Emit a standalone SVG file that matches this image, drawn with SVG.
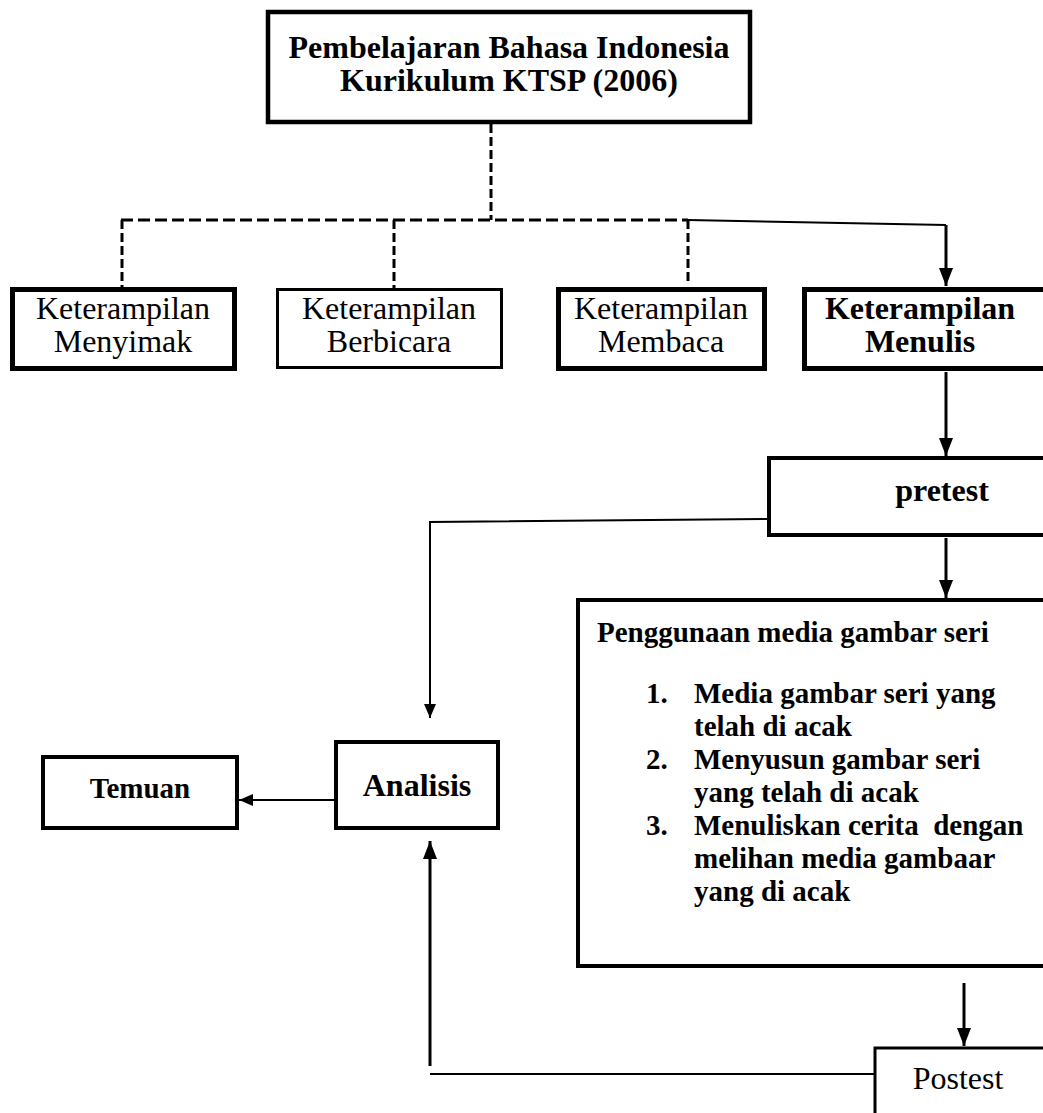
<svg xmlns="http://www.w3.org/2000/svg" width="1043" height="1113" viewBox="0 0 1043 1113">
<defs>
<style>
.box{fill:#fff;stroke:#000}
.t{font-family:"Liberation Serif","Times New Roman",serif;fill:#000}
.b{font-weight:bold}
.c{text-anchor:middle}
.dash{fill:none;stroke:#000;stroke-width:3}
.dv{stroke-dasharray:9 4}
.dh{stroke-dasharray:12 5}
.ln{fill:none;stroke:#000}
</style>
<marker id="ah" viewBox="0 0 18 14" refX="18" refY="7" markerWidth="18" markerHeight="14" markerUnits="userSpaceOnUse" orient="auto">
<path d="M0,0 L18,7 L0,14 Z" fill="#000"/>
</marker>
<marker id="ah2" viewBox="0 0 14 12" refX="14" refY="6" markerWidth="14" markerHeight="12" markerUnits="userSpaceOnUse" orient="auto">
<path d="M0,0 L14,6 L0,12 Z" fill="#000"/>
</marker>
</defs>
<rect width="1043" height="1113" fill="#fff"/>

<g id="connectors">
<path class="dash dv" d="M491,124 V220"/>
<path class="dash dh" d="M121,220 H688"/>
<path class="dash dv" d="M122,220 V287"/>
<path class="dash dv" d="M394,220 V288"/>
<path class="dash dv" d="M688,220 V284"/>
<path class="ln" stroke-width="2" d="M688,220 L946,225"/>
<path class="ln" stroke-width="3" d="M946,225 V286" marker-end="url(#ah)"/>
<path class="ln" stroke-width="3" d="M946,372 V456" marker-end="url(#ah)"/>
<path class="ln" stroke-width="3" d="M946,538 V598" marker-end="url(#ah)"/>
<path class="ln" stroke-width="2" d="M767,519 L430,522 V718" marker-end="url(#ah2)"/>
<path class="ln" stroke-width="2" d="M334,800 H239" marker-end="url(#ah2)"/>
<path class="ln" stroke-width="3" d="M430,1066 V841" marker-end="url(#ah)"/>
<path class="ln" stroke-width="2" d="M430,1074 H874"/>
<path class="ln" stroke-width="3" d="M964,983 V1046" marker-end="url(#ah)"/>
</g>

<g id="node-top">
<rect class="box" x="268" y="12" width="482" height="110" stroke-width="4.5"/>
<text class="t b c" x="509" y="58" font-size="32">Pembelajaran Bahasa Indonesia</text>
<text class="t b c" x="509" y="91" font-size="32">Kurikulum KTSP (2006)</text>
</g>

<g id="node-menyimak">
<rect class="box" x="12.5" y="289.5" width="222" height="79" stroke-width="5"/>
<text class="t c" x="123" y="319" font-size="32">Keterampilan</text>
<text class="t c" x="123" y="352" font-size="32">Menyimak</text>
</g>

<g id="node-berbicara">
<rect class="box" x="277.5" y="289.5" width="224" height="78" stroke-width="3"/>
<text class="t c" x="389" y="319" font-size="32">Keterampilan</text>
<text class="t c" x="389" y="352" font-size="32">Berbicara</text>
</g>

<g id="node-membaca">
<rect class="box" x="558.5" y="289.5" width="206" height="79" stroke-width="5"/>
<text class="t c" x="661" y="319" font-size="32">Keterampilan</text>
<text class="t c" x="661" y="352" font-size="32">Membaca</text>
</g>

<g id="node-menulis">
<rect class="box" x="804.5" y="289.5" width="260" height="79" stroke-width="5"/>
<text class="t b c" x="920" y="319" font-size="32">Keterampilan</text>
<text class="t b c" x="920" y="352" font-size="32">Menulis</text>
</g>

<g id="node-pretest">
<rect class="box" x="769" y="458" width="290" height="77" stroke-width="4"/>
<text class="t b c" x="942" y="501" font-size="32">pretest</text>
</g>

<g id="node-media">
<rect class="box" x="578" y="600" width="480" height="366" stroke-width="4"/>
<text class="t b" x="597" y="642" font-size="29">Penggunaan media gambar seri</text>
<text class="t b" font-size="29">
<tspan x="646" y="703">1.</tspan><tspan x="694" y="703">Media gambar seri yang</tspan>
<tspan x="694" y="736">telah di acak</tspan>
<tspan x="646" y="769">2.</tspan><tspan x="694" y="769">Menyusun gambar seri</tspan>
<tspan x="694" y="802">yang telah di acak</tspan>
<tspan x="646" y="835">3.</tspan><tspan x="694" y="835" xml:space="preserve">Menuliskan cerita  dengan</tspan>
<tspan x="694" y="868">melihan media gambaar</tspan>
<tspan x="694" y="901">yang di acak</tspan>
</text>
</g>

<g id="node-analisis">
<rect class="box" x="336" y="742" width="162" height="86" stroke-width="4"/>
<text class="t b c" x="417" y="796" font-size="32">Analisis</text>
</g>

<g id="node-temuan">
<rect class="box" x="43" y="757" width="194" height="71" stroke-width="4"/>
<text class="t b c" x="140" y="798" font-size="29">Temuan</text>
</g>

<g id="node-postest">
<rect class="box" x="875" y="1048" width="200" height="80" stroke-width="3"/>
<text class="t c" x="958" y="1089" font-size="32">Postest</text>
</g>
</svg>
